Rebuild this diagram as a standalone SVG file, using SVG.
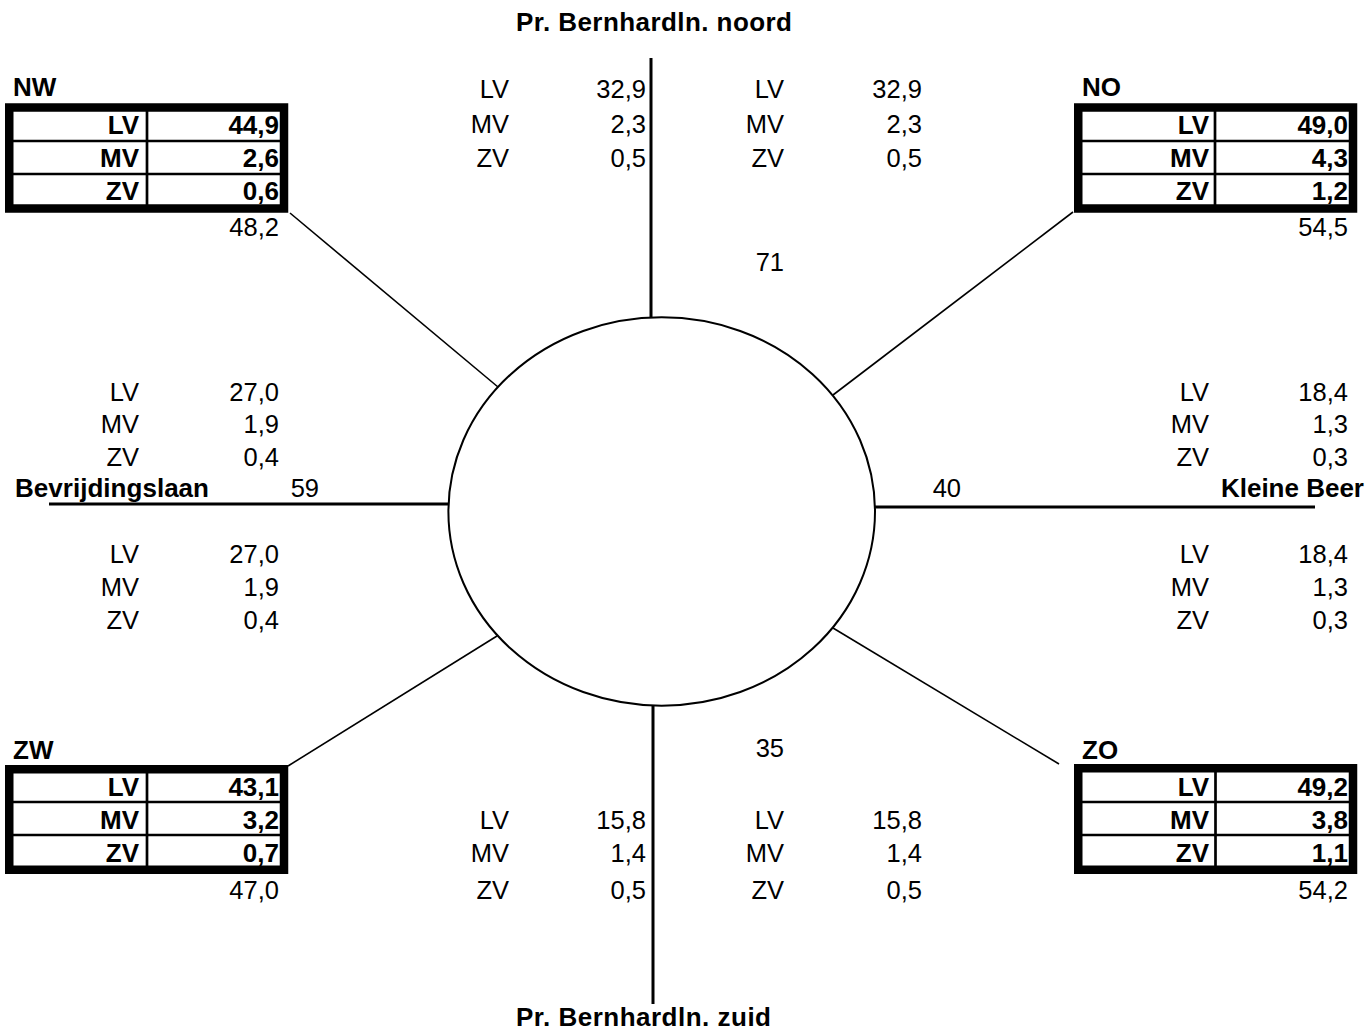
<svg xmlns="http://www.w3.org/2000/svg" width="1367" height="1032" viewBox="0 0 1367 1032">
<style>
text{font-family:"Liberation Sans",Arial,sans-serif;font-size:25.5px;fill:#000}
.b{font-weight:bold;font-size:26px}
.e{text-anchor:end}
.box{fill:none;stroke:#000;stroke-width:8.5}
.sep{stroke:#000;stroke-width:2.7}
.thin{stroke:#000;stroke-width:1.6;fill:none}
.thick{stroke:#000;stroke-width:3;fill:none}
</style>
<rect width="1367" height="1032" fill="#fff"/>
<g id="connectors">
<line class="thick" x1="651" y1="58" x2="651" y2="318"/>
<line class="thick" x1="653" y1="705" x2="653" y2="1004"/>
<line class="thick" x1="49" y1="504" x2="449" y2="504"/>
<line class="thick" x1="874" y1="507" x2="1315" y2="507"/>
<line class="thin" x1="290" y1="213" x2="498" y2="387"/>
<line class="thin" x1="1073" y1="212" x2="833" y2="395"/>
<line class="thin" x1="288" y1="766" x2="497" y2="636"/>
<line class="thin" x1="1059" y1="764" x2="833" y2="628"/>
</g>
<g id="roundabout">
<ellipse cx="661.7" cy="511.5" rx="213.3" ry="194.2" fill="#fff" stroke="#000" stroke-width="2"/>
</g>
<g id="title-noord"><text class="b" x="516" y="31" textLength="276" lengthAdjust="spacing">Pr. Bernhardln. noord</text></g>
<g id="title-zuid"><text class="b" x="516" y="1026" textLength="255" lengthAdjust="spacing">Pr. Bernhardln. zuid</text></g>
<g id="title-west"><text class="b" x="15" y="497" textLength="194" lengthAdjust="spacing">Bevrijdingslaan</text><text class="e" x="319" y="497">59</text></g>
<g id="title-oost"><text class="b e" x="1364" y="497">Kleine Beer</text><text class="e" x="961" y="497">40</text></g>

<g id="noord-left">
<text class="e" x="509" y="98">LV</text><text class="e" x="646" y="98">32,9</text>
<text class="e" x="509" y="133">MV</text><text class="e" x="646" y="133">2,3</text>
<text class="e" x="509" y="167">ZV</text><text class="e" x="646" y="167">0,5</text>
</g>
<g id="noord-right">
<text class="e" x="784" y="98">LV</text><text class="e" x="922" y="98">32,9</text>
<text class="e" x="784" y="133">MV</text><text class="e" x="922" y="133">2,3</text>
<text class="e" x="784" y="167">ZV</text><text class="e" x="922" y="167">0,5</text>
<text class="e" x="784" y="271">71</text>
</g>
<g id="zuid-left">
<text class="e" x="509" y="829">LV</text><text class="e" x="646" y="829">15,8</text>
<text class="e" x="509" y="862">MV</text><text class="e" x="646" y="862">1,4</text>
<text class="e" x="509" y="899">ZV</text><text class="e" x="646" y="899">0,5</text>
</g>
<g id="zuid-right">
<text class="e" x="784" y="757">35</text>
<text class="e" x="784" y="829">LV</text><text class="e" x="922" y="829">15,8</text>
<text class="e" x="784" y="862">MV</text><text class="e" x="922" y="862">1,4</text>
<text class="e" x="784" y="899">ZV</text><text class="e" x="922" y="899">0,5</text>
</g>
<g id="west-upper">
<text class="e" x="139" y="401">LV</text><text class="e" x="279" y="401">27,0</text>
<text class="e" x="139" y="433">MV</text><text class="e" x="279" y="433">1,9</text>
<text class="e" x="139" y="466">ZV</text><text class="e" x="279" y="466">0,4</text>
</g>
<g id="west-lower">
<text class="e" x="139" y="563">LV</text><text class="e" x="279" y="563">27,0</text>
<text class="e" x="139" y="596">MV</text><text class="e" x="279" y="596">1,9</text>
<text class="e" x="139" y="629">ZV</text><text class="e" x="279" y="629">0,4</text>
</g>
<g id="oost-upper">
<text class="e" x="1209" y="401">LV</text><text class="e" x="1348" y="401">18,4</text>
<text class="e" x="1209" y="433">MV</text><text class="e" x="1348" y="433">1,3</text>
<text class="e" x="1209" y="466">ZV</text><text class="e" x="1348" y="466">0,3</text>
</g>
<g id="oost-lower">
<text class="e" x="1209" y="563">LV</text><text class="e" x="1348" y="563">18,4</text>
<text class="e" x="1209" y="596">MV</text><text class="e" x="1348" y="596">1,3</text>
<text class="e" x="1209" y="629">ZV</text><text class="e" x="1348" y="629">0,3</text>
</g>

<g id="NW">
<text class="b" x="13" y="96">NW</text>
<rect class="box" x="9.25" y="107.5" width="274.75" height="101"/>
<line class="sep" x1="147" y1="111" x2="147" y2="205"/>
<line class="sep" x1="13" y1="141" x2="280" y2="141"/>
<line class="sep" x1="13" y1="174" x2="280" y2="174"/>
<text class="b e" x="139" y="134">LV</text><text class="b e" x="279" y="134">44,9</text>
<text class="b e" x="139" y="167">MV</text><text class="b e" x="279" y="167">2,6</text>
<text class="b e" x="139" y="200">ZV</text><text class="b e" x="279" y="200">0,6</text>
<text class="e" x="279" y="236">48,2</text>
</g>
<g id="NO">
<text class="b" x="1082" y="96">NO</text>
<rect class="box" x="1078.25" y="107.5" width="274.75" height="101"/>
<line class="sep" x1="1215" y1="111" x2="1215" y2="205"/>
<line class="sep" x1="1082" y1="141" x2="1349" y2="141"/>
<line class="sep" x1="1082" y1="174" x2="1349" y2="174"/>
<text class="b e" x="1209" y="134">LV</text><text class="b e" x="1348" y="134">49,0</text>
<text class="b e" x="1209" y="167">MV</text><text class="b e" x="1348" y="167">4,3</text>
<text class="b e" x="1209" y="200">ZV</text><text class="b e" x="1348" y="200">1,2</text>
<text class="e" x="1348" y="236">54,5</text>
</g>
<g id="ZW">
<text class="b" x="13" y="759">ZW</text>
<rect class="box" x="9.25" y="769.25" width="274.75" height="100.5"/>
<line class="sep" x1="147" y1="773" x2="147" y2="866"/>
<line class="sep" x1="13" y1="802" x2="280" y2="802"/>
<line class="sep" x1="13" y1="835" x2="280" y2="835"/>
<text class="b e" x="139" y="796">LV</text><text class="b e" x="279" y="796">43,1</text>
<text class="b e" x="139" y="829">MV</text><text class="b e" x="279" y="829">3,2</text>
<text class="b e" x="139" y="862">ZV</text><text class="b e" x="279" y="862">0,7</text>
<text class="e" x="279" y="899">47,0</text>
</g>
<g id="ZO">
<text class="b" x="1082" y="759">ZO</text>
<rect class="box" x="1078.25" y="768.25" width="274.75" height="101.5"/>
<line class="sep" x1="1215.5" y1="772" x2="1215.5" y2="866"/>
<line class="sep" x1="1082" y1="802" x2="1349" y2="802"/>
<line class="sep" x1="1082" y1="835" x2="1349" y2="835"/>
<text class="b e" x="1209" y="796">LV</text><text class="b e" x="1348" y="796">49,2</text>
<text class="b e" x="1209" y="829">MV</text><text class="b e" x="1348" y="829">3,8</text>
<text class="b e" x="1209" y="862">ZV</text><text class="b e" x="1348" y="862">1,1</text>
<text class="e" x="1348" y="899">54,2</text>
</g>
</svg>
